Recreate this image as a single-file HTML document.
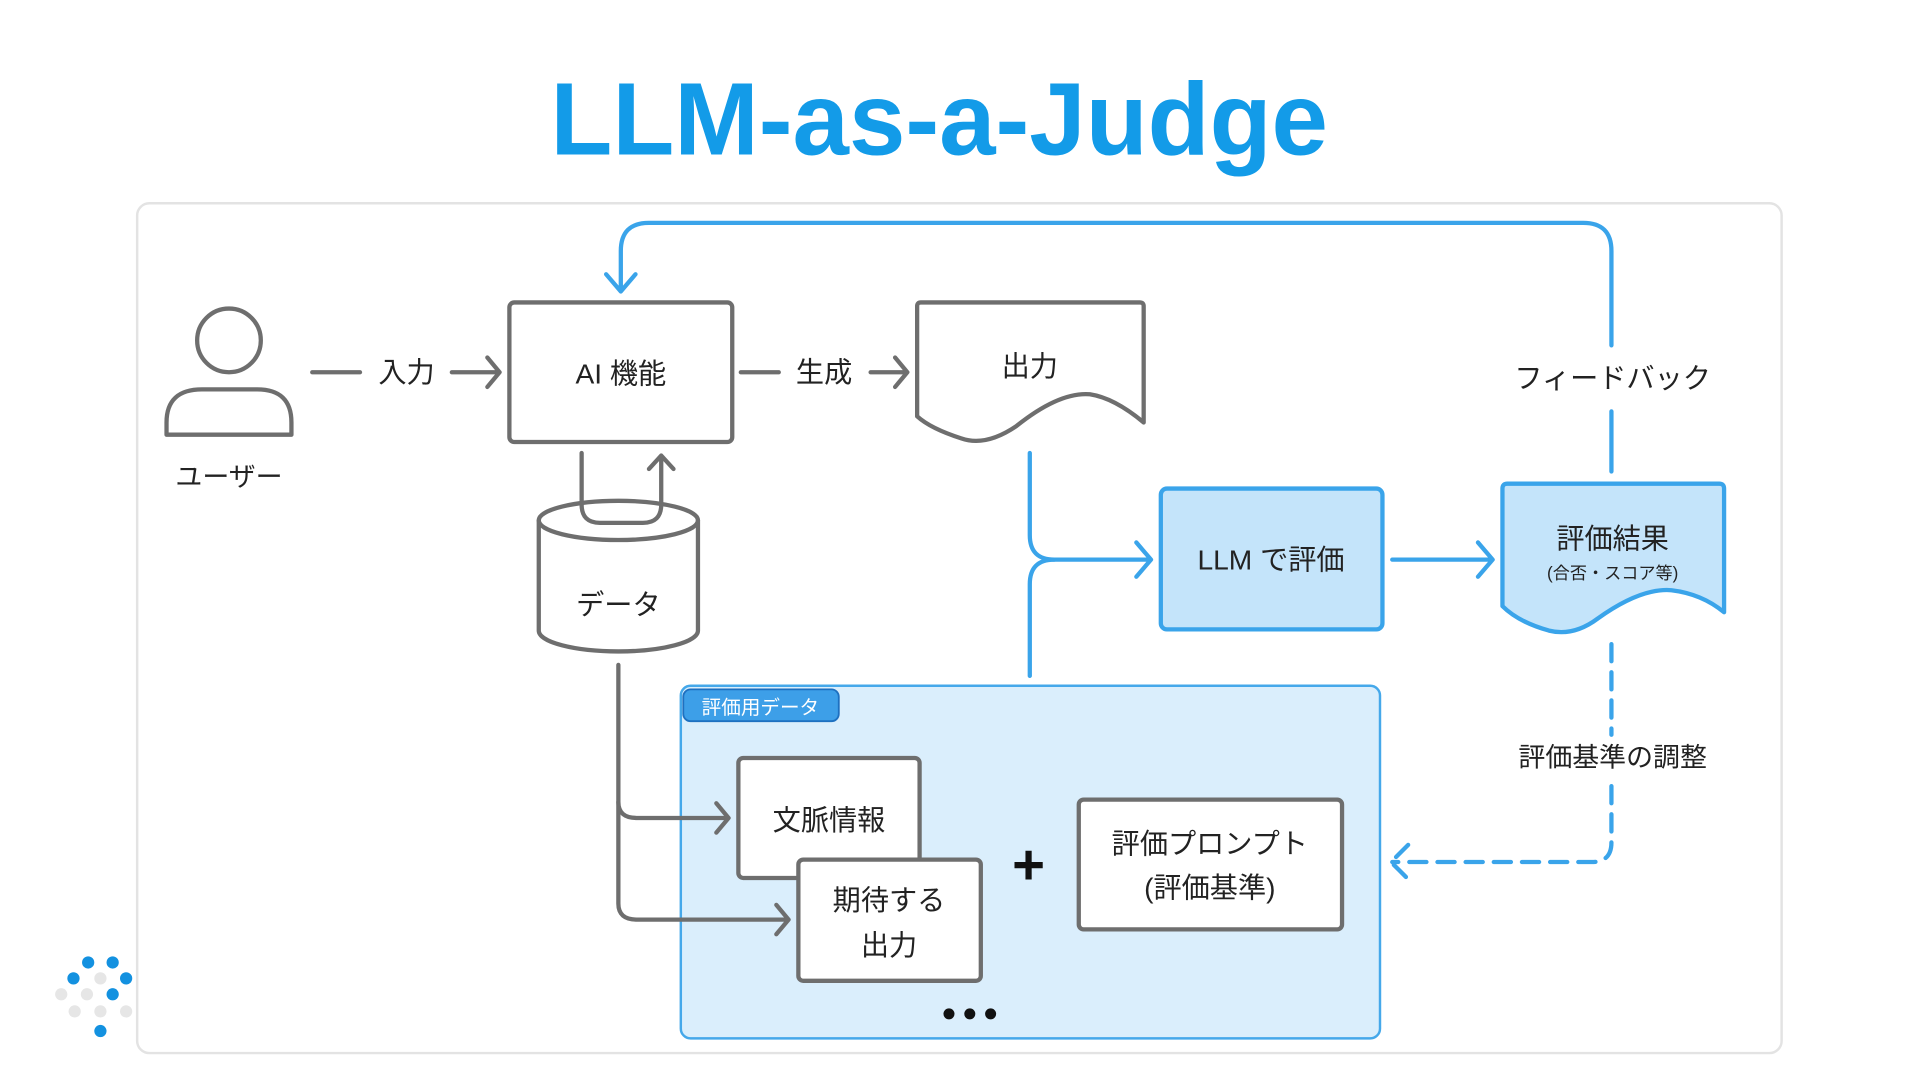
<!DOCTYPE html>
<html><head><meta charset="utf-8"><style>
html,body{margin:0;padding:0;background:#fff;width:1920px;height:1080px;overflow:hidden}
svg{display:block}
text{font-family:"Liberation Sans","Noto Sans CJK JP",sans-serif;fill:#222}
</style></head><body>
<svg width="1920" height="1080" viewBox="0 0 1568 882" preserveAspectRatio="none" xmlns="http://www.w3.org/2000/svg">
<rect x="112" y="166" width="1343" height="694" rx="10" fill="#fff" stroke="#e3e3e3" stroke-width="2"/>
<text x="767" y="126" text-anchor="middle" font-size="84" font-weight="bold" style="fill:#139be8" textLength="635" lengthAdjust="spacingAndGlyphs">LLM-as-a-Judge</text>

<g fill="none" stroke="#6e6e6e" stroke-width="3.5" stroke-linecap="round" stroke-linejoin="round">
<circle cx="187" cy="278" r="26"/>
<path d="M136 355 L136 345 Q136 318 165 318 L210 318 Q238 318 238 345 L238 355 Z"/>
<path d="M255 304 H294"/>
<path d="M369 304 H408 M398 292 L408 304 L398 316"/>
<rect x="416" y="247" width="182" height="114" rx="4"/>
<path d="M605 304 H636"/>
<path d="M711 304 H741 M731 292 L741 304 L731 316"/>
<path d="M749 250 Q749 247 752 247 H931 Q934 247 934 250 V345 Q910 325 890 322 Q865 320 830 348 Q805 365 785 358 Q760 350 749 340 Z"/>
<path d="M475 370 V412 Q475 427 490 427 H525 Q540 427 540 412 V372 M530 383 L540 372 L550 383"/>
<path d="M440 425 V515 A65 17 0 0 0 570 515 V425"/>
<ellipse cx="505" cy="425" rx="65" ry="16"/>
</g>
<text x="187" y="397" text-anchor="middle" font-size="22">ユーザー</text>
<text x="332" y="312" text-anchor="middle" font-size="23">入力</text>
<text x="507" y="313" text-anchor="middle" font-size="23">AI 機能</text>
<text x="673" y="312" text-anchor="middle" font-size="23">生成</text>
<text x="841" y="307" text-anchor="middle" font-size="23">出力</text>
<text x="505" y="502" text-anchor="middle" font-size="23">データ</text>

<g fill="none" stroke="#3aa4ea" stroke-width="3.5" stroke-linecap="round" stroke-linejoin="round">
<path d="M1316 385 V336 M1316 282 V205 Q1316 182 1293 182 H530 Q507 182 507 205 V238 M495 224 L507 238 L519 224"/>
<path d="M841 370 V437 Q841 457 861 457 H938 M928 443 L940 457 L928 471"/>
<path d="M841 552 V477 Q841 457 861 457"/>
<path d="M1137 457 H1217 M1207 443 L1219 457 L1207 471"/>
<path d="M1316 526 V600 M1316 642 V688 Q1316 704 1300 704 H1137 M1150 690 L1136 704 L1150 718" stroke-dasharray="14 9"/>
</g>
<rect x="948" y="399" width="181" height="115" rx="5" fill="#c4e4fa" stroke="#3aa4ea" stroke-width="3.5"/>
<text x="1038" y="465" text-anchor="middle" font-size="23">LLM で評価</text>
<path d="M1227 399 Q1227 395 1231 395 H1404 Q1408 395 1408 399 V500 Q1390 485 1365 482 Q1340 480 1305 505 Q1285 520 1265 515 Q1240 508 1227 495 Z" fill="#c4e4fa" stroke="#3aa4ea" stroke-width="3.5" stroke-linejoin="round"/>
<text x="1317" y="448" text-anchor="middle" font-size="23">評価結果</text>
<text x="1317" y="473" text-anchor="middle" font-size="14">(合否・スコア等)</text>
<text x="1317" y="317" text-anchor="middle" font-size="23">フィードバック</text>
<text x="1317" y="626" text-anchor="middle" font-size="22">評価基準の調整</text>

<rect x="556" y="560" width="571" height="288" rx="8" fill="#daeefc" stroke="#45a8ea" stroke-width="2"/>
<rect x="558" y="563" width="127" height="26" rx="6" fill="#3d9fe8" stroke="#1e70c0" stroke-width="1.5"/>
<text x="621" y="583" text-anchor="middle" font-size="16" style="fill:#fff">評価用データ</text>

<g fill="none" stroke="#6e6e6e" stroke-width="3.5" stroke-linecap="round" stroke-linejoin="round">
<path d="M505 543 V655 Q505 668 520 668 H595 M585 656 L595 668 L585 680"/>
<path d="M505 655 V738 Q505 751 520 751 H644 M634 739 L644 751 L634 763"/>
</g>
<rect x="603" y="619" width="148" height="98" rx="4" fill="#fff" stroke="#6e6e6e" stroke-width="3.5"/>
<text x="677" y="678" text-anchor="middle" font-size="23">文脈情報</text>
<rect x="652" y="702" width="149" height="99" rx="4" fill="#fff" stroke="#6e6e6e" stroke-width="3.5"/>
<text x="726" y="743" text-anchor="middle" font-size="23">期待する</text>
<text x="726" y="780" text-anchor="middle" font-size="23">出力</text>
<text x="840" y="722" text-anchor="middle" font-size="46" font-weight="bold" style="fill:#111">+</text>
<rect x="881" y="653" width="215" height="106" rx="4" fill="#fff" stroke="#6e6e6e" stroke-width="3.5"/>
<text x="988" y="697" text-anchor="middle" font-size="23">評価プロンプト</text>
<text x="988" y="733" text-anchor="middle" font-size="23">(評価基準)</text>
<g fill="#111"><circle cx="775" cy="828" r="4.5"/><circle cx="792" cy="828" r="4.5"/><circle cx="809" cy="828" r="4.5"/></g>

<g>
<circle cx="72" cy="786" r="5" fill="#1391e0"/><circle cx="92" cy="786" r="5" fill="#1391e0"/>
<circle cx="60" cy="799" r="5" fill="#1391e0"/><circle cx="82" cy="799" r="5" fill="#e6e6e6"/><circle cx="103" cy="799" r="5" fill="#1391e0"/>
<circle cx="50" cy="812" r="5" fill="#e6e6e6"/><circle cx="71" cy="812" r="5" fill="#e6e6e6"/><circle cx="92" cy="812" r="5" fill="#1391e0"/>
<circle cx="61" cy="826" r="5" fill="#e6e6e6"/><circle cx="82" cy="826" r="5" fill="#e6e6e6"/><circle cx="103" cy="826" r="5" fill="#e6e6e6"/>
<circle cx="82" cy="842" r="5" fill="#1391e0"/>
</g>
</svg>
</body></html>
